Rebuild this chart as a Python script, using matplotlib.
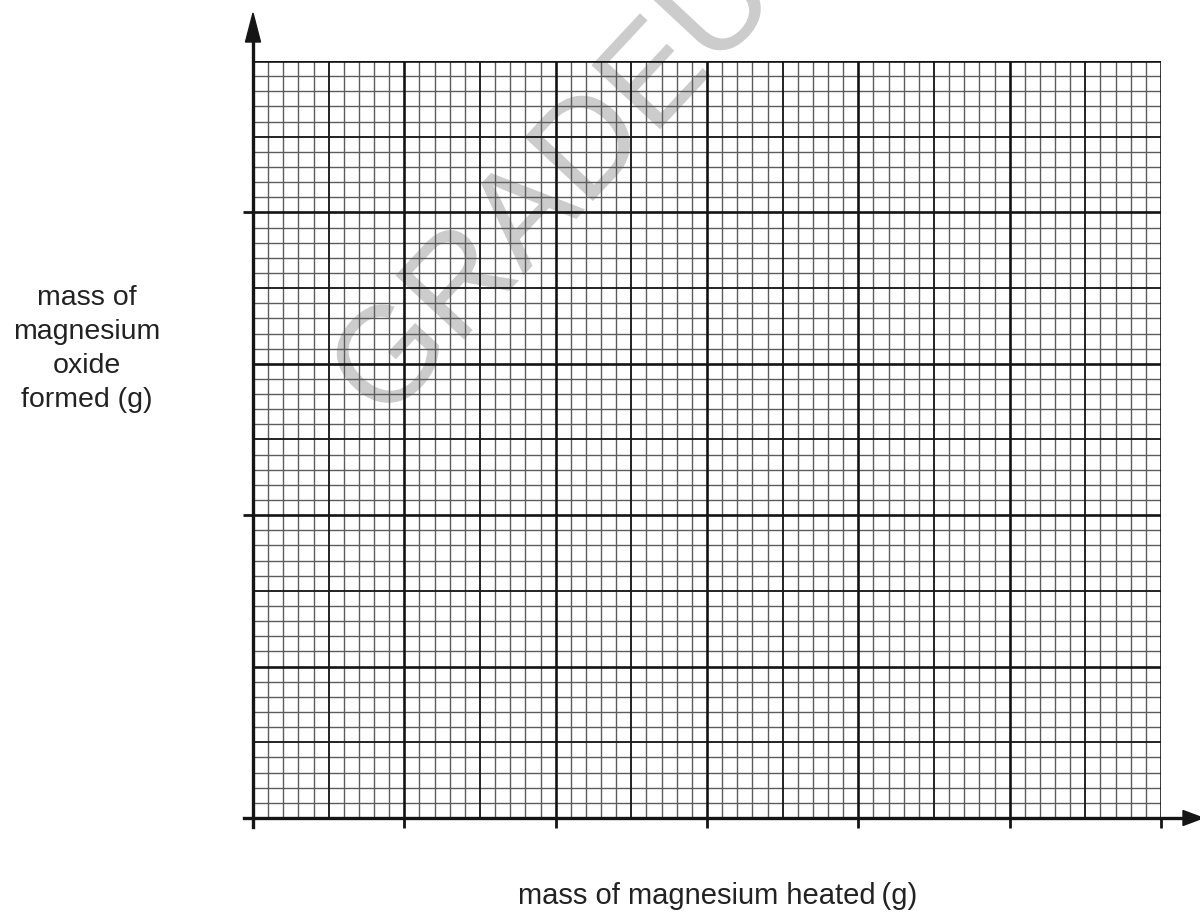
import matplotlib.pyplot as plt
import matplotlib.patheffects as pe
import numpy as np

# grid paper: 60 small squares across, 50 up
x_max, y_max = 60, 50
minor_step, medium_step, major_step = 1, 5, 10
x_ticks = [0, 10, 20, 30, 40, 50, 60]
y_ticks = [0, 20, 40]

x_label = "mass of magnesium heated\u2009(g)"
y_label = "mass of\nmagnesium\noxide\nformed (g)"
watermark = "GRADEUP"

W, H = 1200, 913
fig = plt.figure(figsize=(W / 100, H / 100), dpi=100)
left, right, top, bottom = 253, 1161, 61, 818
ax = fig.add_axes([left / W, 1 - bottom / H, (right - left) / W, (bottom - top) / H])
ax.set_xlim(0, x_max)
ax.set_ylim(0, y_max)
ax.patch.set_visible(False)
for s in ax.spines.values():
    s.set_visible(False)


def line_style(v):
    if v % major_step == 0:
        return "#141414", 1.9
    if v % medium_step == 0:
        return "#1a1a1a", 1.35
    return "#5c5c5c", 1.0


for v in np.arange(0, x_max + 1, minor_step):
    c, lw = line_style(v)
    ax.axvline(v, color=c, lw=lw, zorder=1 + (v % medium_step == 0) + (v % major_step == 0))
for v in np.arange(0, y_max + 1, minor_step):
    c, lw = line_style(v)
    ax.axhline(v, color=c, lw=lw, zorder=1 + (v % medium_step == 0) + (v % major_step == 0))

ax.set_xticks(x_ticks)
ax.set_yticks(y_ticks)
ax.set_xticklabels([])
ax.set_yticklabels([])
ax.tick_params(axis="both", direction="out", length=7, width=2.0, color="#151515")

# axes with arrows
px = (right - left) / x_max
py = (bottom - top) / y_max
over = 9 / px
ax.plot([0, 0], [-over, y_max + 34 / py], color="#151515", lw=2.4, clip_on=False, zorder=5)
ax.plot([-over, x_max + 24 / px], [0, 0], color="#151515", lw=2.4, clip_on=False, zorder=5)
ax.add_patch(plt.Polygon([(-7.5 / px, y_max + 19 / py), (7.5 / px, y_max + 19 / py), (0, y_max + 48 / py)],
                         closed=True, color="#151515", clip_on=False, zorder=6))
ax.add_patch(plt.Polygon([(x_max + 22 / px, 7.5 / py), (x_max + 22 / px, -7.5 / py), (x_max + 42 / px, 0)],
                         closed=True, color="#151515", clip_on=False, zorder=6))

fig.text(87 / W, 1 - 349 / H, y_label, ha="center", va="center", fontsize=20.5,
         family="Liberation Sans", color="#222222", linespacing=1.4)
fig.text(718 / W, 1 - 896 / H, x_label, ha="center", va="center", fontsize=21,
         family="Liberation Sans", color="#222222")

# watermark sits under the grid lines
fig.text(588 / W, 1 - 155 / H, watermark, ha="center", va="center", rotation=47,
         fontsize=98, family="Liberation Sans", color="#cccccc", zorder=-1,
         path_effects=[pe.withStroke(linewidth=2.5, foreground="white")])

fig.savefig("out.png", dpi=100)
